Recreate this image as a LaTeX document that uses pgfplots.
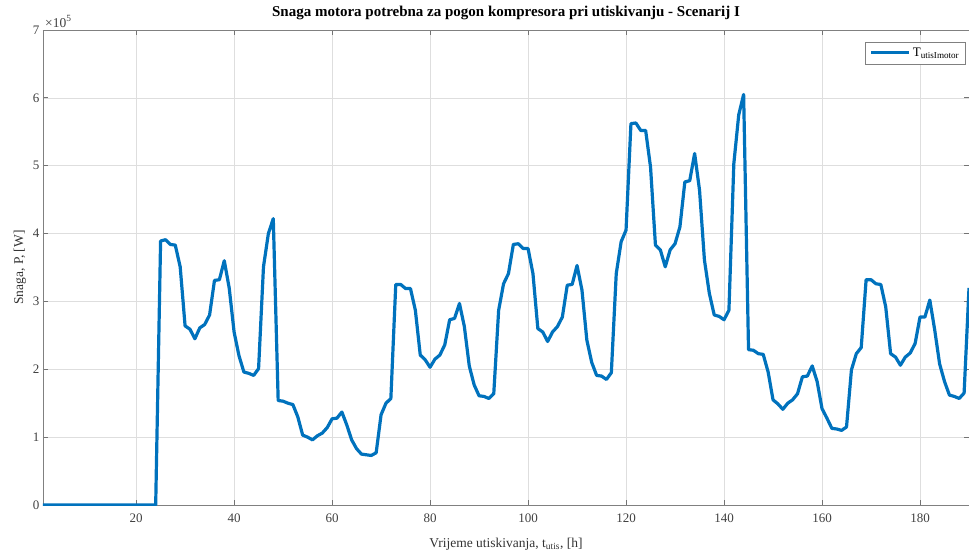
\documentclass[border=0pt]{standalone}
\usepackage{pgfplots}
\pgfplotsset{compat=1.18}
\usepackage{pgfplotstable}
\usepackage{fontspec}
\setmainfont{Liberation Serif}
\definecolor{mblue}{rgb}{0,0.447,0.741}
\pgfplotstableread{
x y
1 0
2 0
3 0
4 0
5 0
6 0
7 0
8 0
9 0
10 0
11 0
12 0
13 0
14 0
15 0
16 0
17 0
18 0
19 0
20 0
21 0
22 0
23 0
24 0
25 389000
26 391000
27 384000
28 383000
29 351000
30 264000
31 259000
32 245000
33 261000
34 266000
35 280000
36 331000
37 332000
38 360000
39 320000
40 255000
41 220000
42 196000
43 194000
44 191000
45 201000
46 351000
47 400000
48 422000
49 154000
50 153000
51 150000
52 148000
53 130000
54 103000
55 100000
56 96000
57 102000
58 106000
59 114000
60 127000
61 128000
62 137000
63 118000
64 96000
65 83000
66 75000
67 74000
68 73000
69 77000
70 133000
71 150000
72 157000
73 325000
74 325000
75 319000
76 319000
77 287000
78 221000
79 214000
80 203000
81 215000
82 221000
83 236000
84 273000
85 275000
86 297000
87 263000
88 205000
89 177000
90 161000
91 160000
92 157000
93 164000
94 287000
95 326000
96 341000
97 384000
98 385000
99 378000
100 378000
101 341000
102 260000
103 255000
104 241000
105 255000
106 263000
107 277000
108 324000
109 325000
110 353000
111 317000
112 243000
113 210000
114 191000
115 190000
116 185000
117 195000
118 341000
119 388000
120 405000
121 562000
122 563000
123 552000
124 552000
125 498000
126 383000
127 376000
128 351000
129 376000
130 385000
131 410000
132 476000
133 478000
134 518000
135 464000
136 361000
137 312000
138 280000
139 278000
140 273000
141 287000
142 503000
143 575000
144 605000
145 229000
146 228000
147 223000
148 222000
149 196000
150 155000
151 149000
152 141000
153 150000
154 155000
155 164000
156 189000
157 190000
158 205000
159 182000
160 142000
161 128000
162 113000
163 112000
164 110000
165 115000
166 199000
167 223000
168 232000
169 332000
170 332000
171 326000
172 325000
173 292000
174 223000
175 218000
176 206000
177 218000
178 224000
179 238000
180 277000
181 277000
182 302000
183 258000
184 208000
185 182000
186 162000
187 160000
188 157000
189 165000
190 320000
}\datatable
\begin{document}
\begin{tikzpicture}
\begin{axis}[
  name=ax,
  at={(0,0)}, anchor=south west,
  scale only axis,
  width=926pt, height=475pt,
  xmin=1, xmax=190,
  ymin=0, ymax=700000,
  xtick={20,40,...,180},
  ytick={0,100000,200000,300000,400000,500000,600000,700000},
  yticklabels={0,1,2,3,4,5,6,7},
  scaled y ticks=false,
  /pgf/number format/assume math mode=true,
  tick label style={font=\fontsize{13}{15}\selectfont, text=black!75},
  xticklabel style={yshift=-5pt},
  tick align=inside,
  major tick length=5pt,
  tick style={black!55, line width=0.8pt},
  axis line style={black!50, line width=0.9pt},
  grid=major,
  major grid style={black!13, line width=0.7pt},
  xtick pos=both, ytick pos=both,
  title={\bfseries Snaga motora potrebna za pogon kompresora pri utiskivanju - Scenarij I},
  title style={font=\fontsize{15}{17}\selectfont, at={(0.5,1)}, anchor=south, yshift=1pt},
  xlabel={Vrijeme utiskivanja, t\textsubscript{utis}, [h]},
  ylabel={Snaga, P, [W]},
  label style={font=\fontsize{13.5}{15}\selectfont, text=black!80},
  xlabel style={yshift=-9pt},
  ylabel style={yshift=0pt},
  legend style={at={(rel axis cs:0.9968,0.9754)}, anchor=north east, draw=black!50, line width=0.6pt, fill=white, font=\fontsize{13}{15}\selectfont, inner xsep=4.5pt, inner ysep=4pt},
  legend cell align=left,
  legend image code/.code={\draw[mblue, line width=3pt] (0pt,0pt) -- (38pt,0pt);},
  clip=true,
]
\addplot[mblue, line width=3.2pt, line join=round] table[x=x, y=y] {\datatable};
\addlegendentry{T\textsubscript{utisImotor}}
\end{axis}
\node[anchor=base west, font=\fontsize{13.5}{15}\selectfont, text=black!75, inner sep=0pt] at ([xshift=2pt, yshift=3pt]ax.north west) {×10\textsuperscript{5}};
\pgfresetboundingbox
\path[use as bounding box] (-43pt,-45pt) rectangle (926pt,505pt);
\end{tikzpicture}
\end{document}
